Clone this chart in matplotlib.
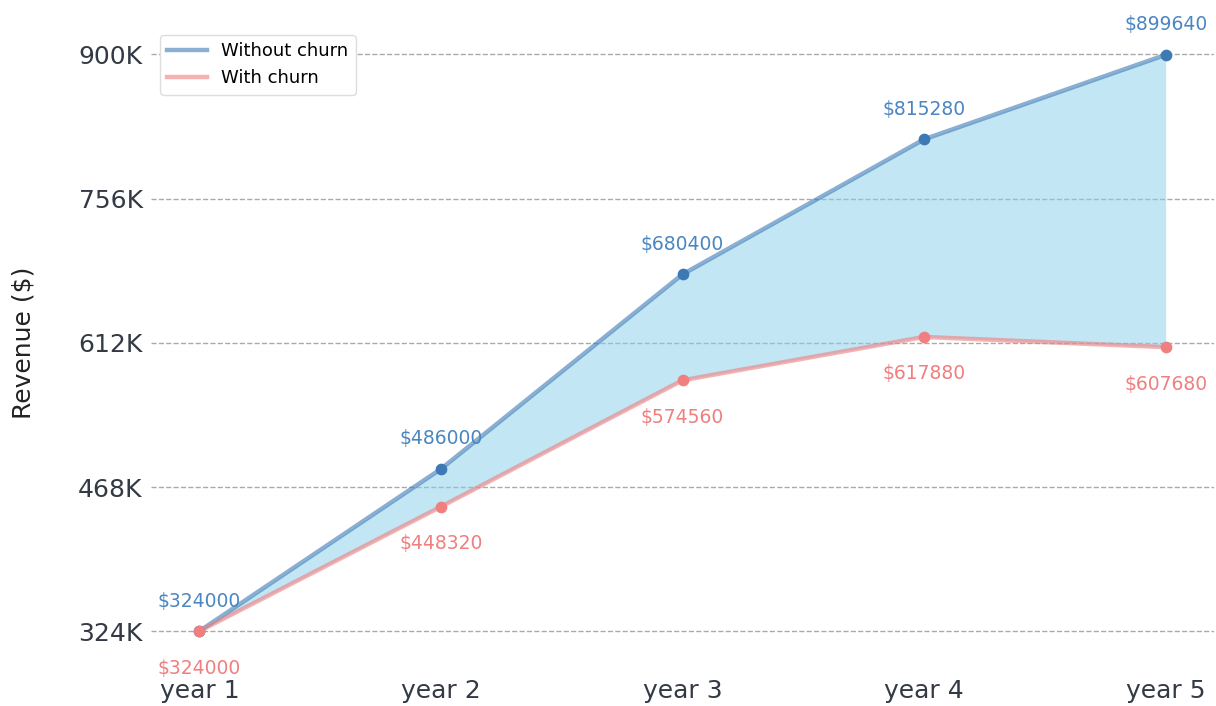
import matplotlib
matplotlib.use("Agg")
import matplotlib.pyplot as plt

years = ["year 1", "year 2", "year 3", "year 4", "year 5"]
without_churn = [324000, 486000, 680400, 815280, 899640]
with_churn = [324000, 448320, 574560, 617880, 607680]
y_ticks = [324000, 468000, 612000, 756000, 900000]
y_tick_labels = ["324K", "468K", "612K", "756K", "900K"]

BLUE = "#3d7ab5"
RED = "#f07f7f"

fig = plt.figure(figsize=(12.16, 7.06), dpi=100)
ax = fig.add_axes([151 / 1216, 46 / 706, 1063 / 1216, 634 / 706])
x = list(range(len(years)))

ax.fill_between(x, with_churn, without_churn, color="skyblue", alpha=0.5, linewidth=0)
ax.plot(x, without_churn, color=BLUE, linewidth=3.2, alpha=0.6, label="Without churn")
ax.plot(x, with_churn, color=RED, linewidth=3.2, alpha=0.6, label="With churn")
ax.scatter(x, without_churn, color=BLUE, s=55, zorder=3)
ax.scatter(x, with_churn, color=RED, s=55, zorder=3)

for xi, v in zip(x, without_churn):
    ax.annotate(f"${v}", (xi, v), xytext=(0, 30), textcoords="offset pixels",
                ha="center", va="center", color="#4a86c0", fontsize=13.5)
for xi, v in zip(x, with_churn):
    ax.annotate(f"${v}", (xi, v), xytext=(0, -37), textcoords="offset pixels",
                ha="center", va="center", color=RED, fontsize=13.5)

ax.set_xlim(-0.2, 4.2)
ax.set_ylim(295218, 928422)
ax.set_xticks(x, years)
ax.set_yticks(y_ticks, y_tick_labels)
ax.tick_params(length=0, labelsize=18, labelcolor="#333a44")
ax.tick_params(axis="x", pad=14)
ax.tick_params(axis="y", pad=6)
ax.set_ylabel("Revenue ($)", fontsize=18, labelpad=31, color="#222222")
ax.grid(axis="y", linestyle="--", color="#aaaaaa", linewidth=1)
ax.set_axisbelow(True)
for s in ax.spines.values():
    s.set_visible(False)

ax.legend(loc="upper left", fontsize=13, handlelength=2.2,
          bbox_to_anchor=(0.0, 1.0), framealpha=1, edgecolor="#dddddd")

fig.savefig("out.png", dpi=100)
